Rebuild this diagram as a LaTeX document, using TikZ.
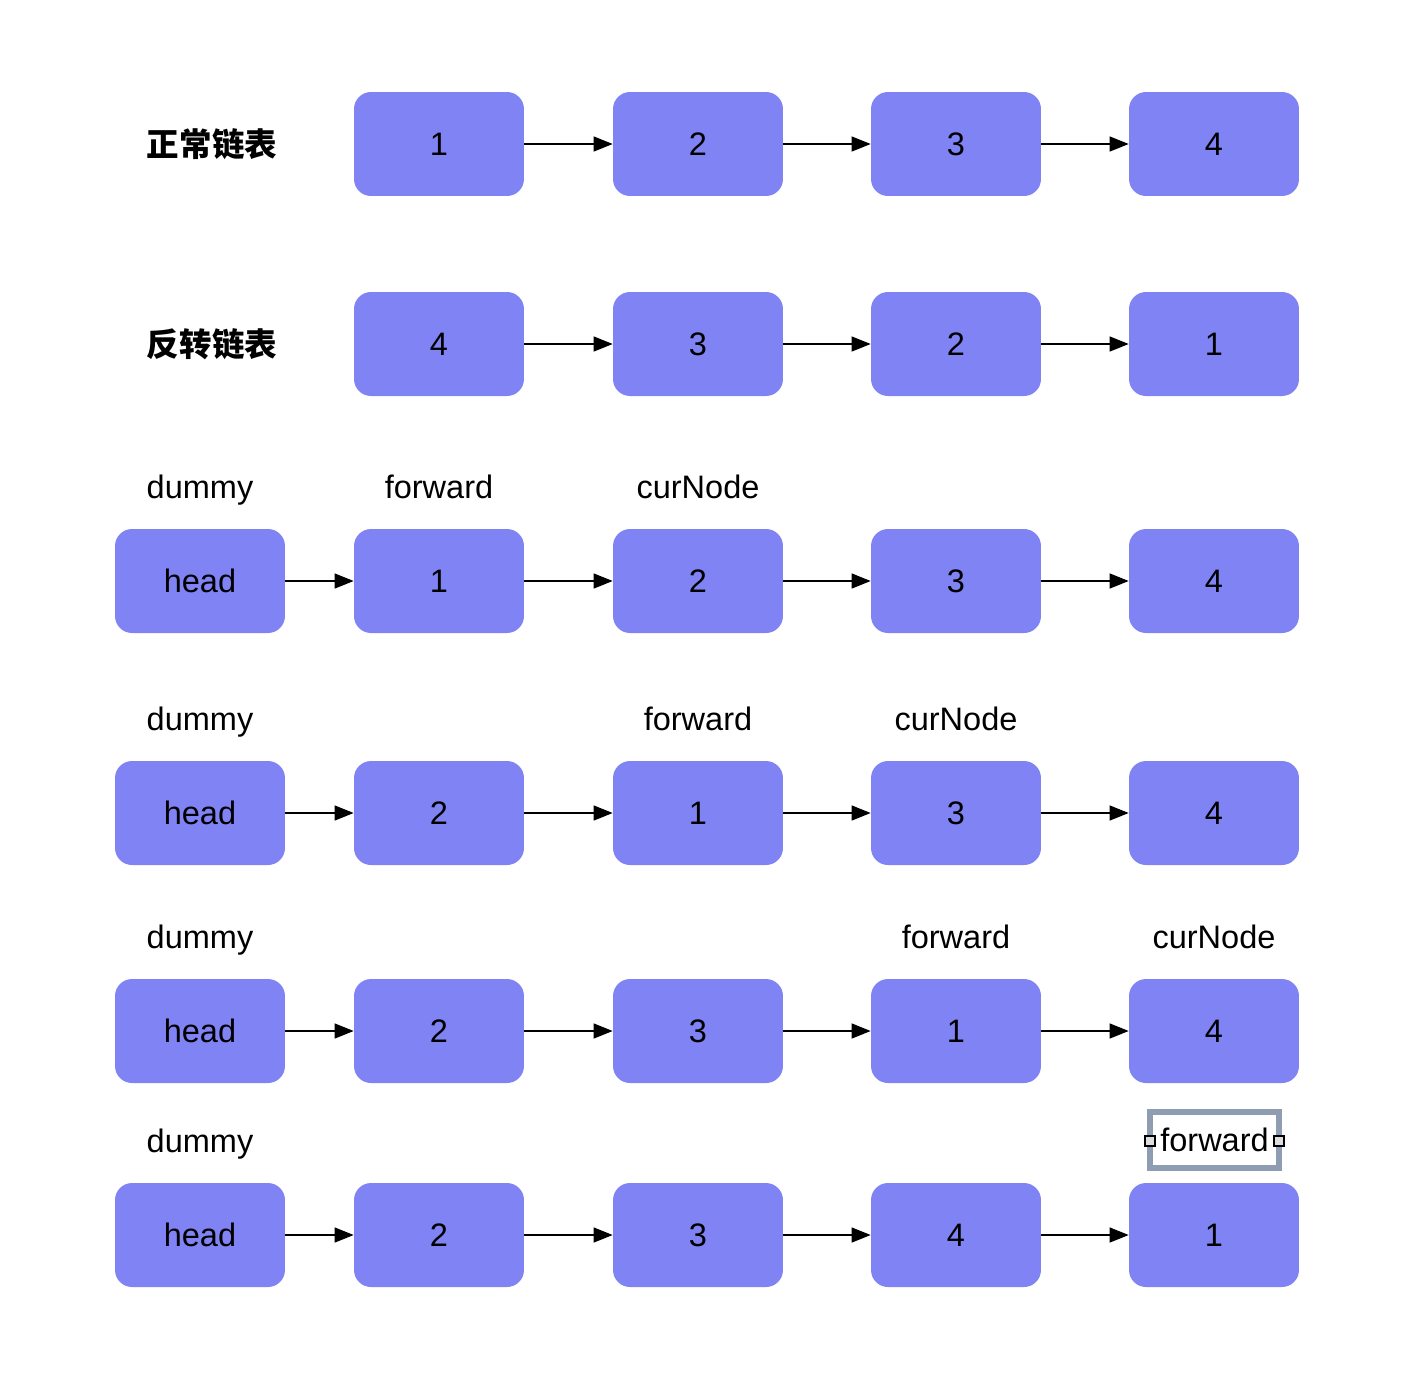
\documentclass[tikz,border=0pt]{standalone}
\usepackage{fontspec}
\setmainfont{Liberation Sans}
\newfontfamily\cjk{Noto Sans CJK SC}
\usetikzlibrary{arrows.meta}
\usetikzlibrary{shapes}

\definecolor{boxblue}{RGB}{127,131,244}
\definecolor{selgray}{RGB}{143,157,178}

\begin{document}
\begin{tikzpicture}[x = 0.02cm, y = -0.02cm, font=\fontsize{18.5}{22}\selectfont]
	\tikzstyle{listStyle} = [shape = rectangle, rounded corners = 0.34cm, fill = boxblue, minimum width = 3.4cm, minimum height = 2.08cm, inner sep = 0pt]
	\tikzstyle{titleStyle} = [font = \cjk\bfseries\fontsize{18.5}{22}\selectfont]
	\tikzstyle{nameStyle} = [inner sep = 0pt, text height = 13.4pt, text depth = 0pt]
	\tikzstyle{linkStyle} = [-{Triangle[length = 0.38cm, width = 0.3cm]}, line width = 0.7pt]
	\tikzstyle{handleStyle} = [draw, fill = gray!25, line width = 0.6pt, minimum size = 0.2cm, inner sep = 0pt]
	\useasboundingbox (0,0) rectangle (1424,1394);
	% normal list
	\node[titleStyle] (t1) at (212,144) {正常链表};
	\node[listStyle] (a1) at (439,144) {1};
	\node[listStyle] (a2) at (698,144) {2};
	\node[listStyle] (a3) at (956,144) {3};
	\node[listStyle] (a4) at (1214,144) {4};
	\draw[linkStyle] (a1) -- (a2);
	\draw[linkStyle] (a2) -- (a3);
	\draw[linkStyle] (a3) -- (a4);
	% reversed list
	\node[titleStyle] (t2) at (212,344) {反转链表};
	\node[listStyle] (b1) at (439,344) {4};
	\node[listStyle] (b2) at (698,344) {3};
	\node[listStyle] (b3) at (956,344) {2};
	\node[listStyle] (b4) at (1214,344) {1};
	\draw[linkStyle] (b1) -- (b2);
	\draw[linkStyle] (b2) -- (b3);
	\draw[linkStyle] (b3) -- (b4);
	% step 1
	\node[nameStyle] (c0n) at (200,487) {dummy};
	\node[nameStyle] (c1n) at (439,487) {forward};
	\node[nameStyle] (c2n) at (698,487) {curNode};
	\node[listStyle] (c0) at (200,581) {head};
	\node[listStyle] (c1) at (439,581) {1};
	\node[listStyle] (c2) at (698,581) {2};
	\node[listStyle] (c3) at (956,581) {3};
	\node[listStyle] (c4) at (1214,581) {4};
	\draw[linkStyle] (c0) -- (c1);
	\draw[linkStyle] (c1) -- (c2);
	\draw[linkStyle] (c2) -- (c3);
	\draw[linkStyle] (c3) -- (c4);
	% step 2
	\node[nameStyle] (d0n) at (200,719) {dummy};
	\node[nameStyle] (d2n) at (698,719) {forward};
	\node[nameStyle] (d3n) at (956,719) {curNode};
	\node[listStyle] (d0) at (200,813) {head};
	\node[listStyle] (d1) at (439,813) {2};
	\node[listStyle] (d2) at (698,813) {1};
	\node[listStyle] (d3) at (956,813) {3};
	\node[listStyle] (d4) at (1214,813) {4};
	\draw[linkStyle] (d0) -- (d1);
	\draw[linkStyle] (d1) -- (d2);
	\draw[linkStyle] (d2) -- (d3);
	\draw[linkStyle] (d3) -- (d4);
	% step 3
	\node[nameStyle] (e0n) at (200,937) {dummy};
	\node[nameStyle] (e3n) at (956,937) {forward};
	\node[nameStyle] (e4n) at (1214,937) {curNode};
	\node[listStyle] (e0) at (200,1031) {head};
	\node[listStyle] (e1) at (439,1031) {2};
	\node[listStyle] (e2) at (698,1031) {3};
	\node[listStyle] (e3) at (956,1031) {1};
	\node[listStyle] (e4) at (1214,1031) {4};
	\draw[linkStyle] (e0) -- (e1);
	\draw[linkStyle] (e1) -- (e2);
	\draw[linkStyle] (e2) -- (e3);
	\draw[linkStyle] (e3) -- (e4);
	% step 4
	\node[nameStyle] (f0n) at (200,1141) {dummy};
	\node[draw = selgray, line width = 3.4pt, minimum width = 2.58cm, minimum height = 1.12cm, inner sep = 0pt] (f4n) at (1214.5,1140) {forward};
	\node[handleStyle] (h1) at (1150,1141) {};
	\node[handleStyle] (h2) at (1279,1141) {};
	\node[listStyle] (f0) at (200,1235) {head};
	\node[listStyle] (f1) at (439,1235) {2};
	\node[listStyle] (f2) at (698,1235) {3};
	\node[listStyle] (f3) at (956,1235) {4};
	\node[listStyle] (f4) at (1214,1235) {1};
	\draw[linkStyle] (f0) -- (f1);
	\draw[linkStyle] (f1) -- (f2);
	\draw[linkStyle] (f2) -- (f3);
	\draw[linkStyle] (f3) -- (f4);
\end{tikzpicture}
\end{document}
